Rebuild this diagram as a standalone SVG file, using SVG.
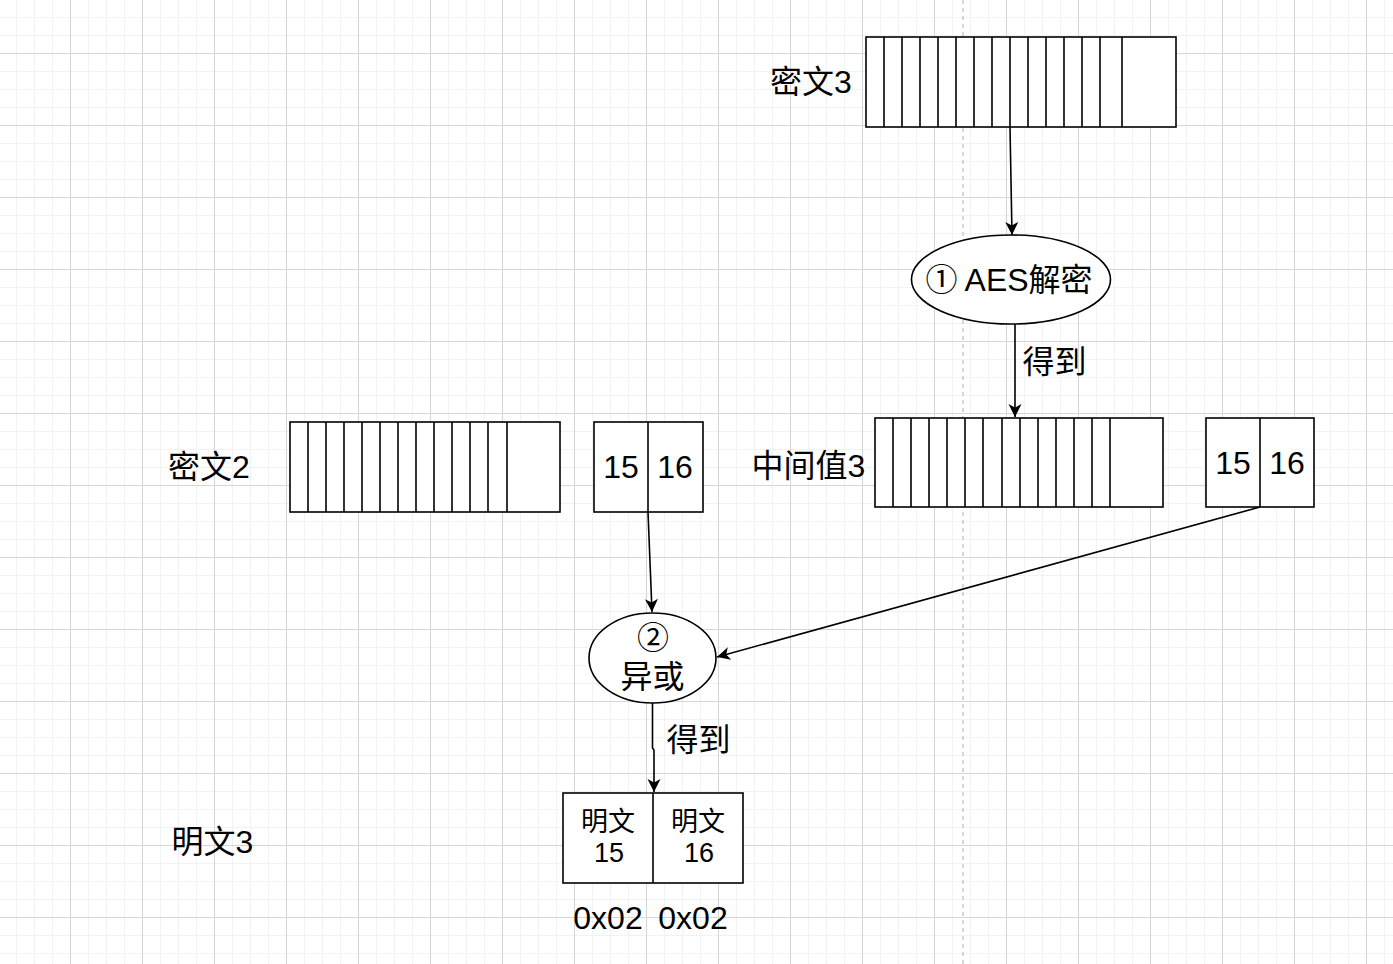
<svg xmlns="http://www.w3.org/2000/svg" width="1393" height="964" viewBox="0 0 1393 964">
<defs>
<pattern id="minor" patternUnits="userSpaceOnUse" x="16" y="17" width="18" height="18">
<path d="M0.5 0 V18 M0 0.5 H18" stroke="#f2f2f2" stroke-width="1.2" fill="none"/>
</pattern>
<pattern id="major" patternUnits="userSpaceOnUse" x="70" y="53" width="72" height="72">
<path d="M0.5 0 V72 M0 0.5 H72" stroke="#d6d6d6" stroke-width="1" fill="none"/>
</pattern>
<marker id="arr" markerUnits="userSpaceOnUse" markerWidth="16" markerHeight="16" viewBox="-14 -8 16 16" refX="0" refY="0" orient="auto">
<path d="M0,0 L-13,-6.5 L-9.5,0 L-13,6.5 Z" fill="#000"/>
</marker>
<style>
.box{fill:#fff;stroke:#000;stroke-width:1.6}
.ln{stroke:#000;stroke-width:1.6;fill:none}
.t{font-family:"Liberation Sans","Noto Sans CJK SC",sans-serif;font-size:32px;fill:#000;text-anchor:middle}
.s{font-size:27px}
.edge{stroke:#000;stroke-width:1.6;fill:none;marker-end:url(#arr)}
</style>
</defs>
<rect width="1393" height="964" fill="#fff"/>
<rect width="1393" height="964" fill="url(#minor)"/>
<rect width="1393" height="964" fill="url(#major)"/>
<line x1="963" y1="0" x2="963" y2="964" stroke="#bdbdbd" stroke-width="1.2" stroke-dasharray="4 4"/>

<g id="cipher3">
<rect class="box" x="866" y="37" width="310" height="90"/>
<path class="ln" d="M884 37V127M902 37V127M920 37V127M938 37V127M956 37V127M974 37V127M992 37V127M1010 37V127M1028 37V127M1046 37V127M1064 37V127M1082 37V127M1100 37V127M1122 37V127"/>
</g>
<g id="label-cipher3"><text class="t" x="811" y="93">密文3</text></g>

<g id="aes">
<ellipse class="box" cx="1011" cy="279.5" rx="99.5" ry="44.5"/>
<text class="t" x="1009" y="291">① AES解密</text>
</g>

<g id="cipher2">
<rect class="box" x="290" y="422" width="270" height="90"/>
<path class="ln" d="M308 422V512M326 422V512M344 422V512M362 422V512M380 422V512M398 422V512M416 422V512M434 422V512M452 422V512M470 422V512M488 422V512M507 422V512"/>
</g>
<g id="label-cipher2"><text class="t" x="209" y="478">密文2</text></g>

<g id="c2-1516">
<rect class="box" x="594" y="422" width="109" height="90"/>
<line class="ln" x1="648" y1="422" x2="648" y2="512"/>
<text class="t" x="621" y="478">15</text>
<text class="t" x="675" y="478">16</text>
</g>

<g id="mid3">
<rect class="box" x="875" y="418" width="288" height="89"/>
<path class="ln" d="M893 418V507M911 418V507M929 418V507M947 418V507M965 418V507M983 418V507M1002 418V507M1020 418V507M1038 418V507M1056 418V507M1074 418V507M1092 418V507M1110 418V507"/>
</g>
<g id="label-mid3"><text class="t" x="808.5" y="477">中间值3</text></g>

<g id="m3-1516">
<rect class="box" x="1206" y="418" width="108" height="89"/>
<line class="ln" x1="1260" y1="418" x2="1260" y2="507"/>
<text class="t" x="1233" y="474">15</text>
<text class="t" x="1287" y="474">16</text>
</g>

<g id="xor">
<ellipse class="box" cx="652.5" cy="658" rx="63.5" ry="45"/>
<text class="t" x="653" y="649">②</text>
<text class="t" x="652.5" y="688">异或</text>
</g>

<g id="plain3">
<rect class="box" x="563" y="793" width="180" height="90"/>
<line class="ln" x1="653" y1="793" x2="653" y2="883"/>
<text class="t s" x="608" y="831">明文</text>
<text class="t s" x="609" y="862">15</text>
<text class="t s" x="698" y="831">明文</text>
<text class="t s" x="699" y="862">16</text>
</g>
<g id="label-plain3"><text class="t" x="212.5" y="853">明文3</text></g>
<g id="hex">
<text class="t" x="608" y="929">0x02</text>
<text class="t" x="693" y="929">0x02</text>
</g>

<g id="connectors">
<path class="edge" d="M1010 127 L1012 235"/>
<path class="edge" d="M1015 324 L1015 417"/>
<path class="edge" d="M648 512 L652 612"/>
<path class="edge" d="M1260 507 L717 657"/>
<path class="edge" d="M652.5 703 L652.5 748 L654 750 L654 792"/>
<text class="t" x="1054.5" y="373">得到</text>
<text class="t" x="698.5" y="751">得到</text>
</g>
</svg>
